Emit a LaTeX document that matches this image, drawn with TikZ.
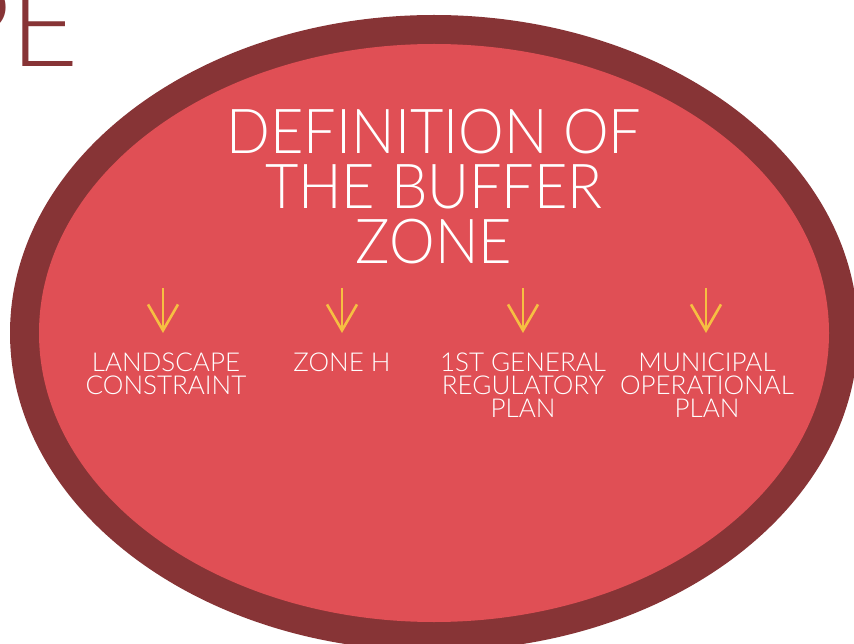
\documentclass[tikz,border=0pt]{standalone}
\usepackage{fontspec}
\setmainfont{Lato}[UprightFont={* Light}]
\usetikzlibrary{arrows.meta}

\definecolor{rim}{HTML}{873436}
\definecolor{disc}{HTML}{E04F55}
\definecolor{pointer}{HTML}{F6BF42}

\begin{document}
\begin{tikzpicture}[x=1pt,y=-1pt,
  title/.style = {text=white,font=\addfontfeature{FakeStretch=0.93}\fontsize{62}{55}\selectfont,align=center,inner sep=0pt},   % big heading
  item/.style = {text=white,font=\fontsize{26}{23}\selectfont,align=center,inner sep=0pt,anchor=north},
  arr/.style = {pointer,line width=2.6pt,-{Straight Barb[length=26pt,width=30pt]}}]
\useasboundingbox (0,0) rectangle (854,644);
\begin{scope}
\clip (0,0) rectangle (854,644);
\node[anchor=base east,inner sep=0pt,text=rim,font=\fontsize{118}{118}\selectfont](pe) at (79,67){PE};
\fill[rim] (434,333) ellipse [x radius=424,y radius=318];
\end{scope}
\fill[disc] (434,333) ellipse [x radius=395,y radius=289];
\node[title,anchor=north](head) at (434,109){DEFINITION OF\\THE BUFFER\\ZONE};
% the four sources
\node[item](n1) at (166,353){LANDSCAPE\\CONSTRAINT};
\node[item](n2) at (342,353){ZONE H};
\node[item](n3) at (523,353){1ST GENERAL\\REGULATORY\\PLAN};
\node[item](n4) at (707,353){MUNICIPAL\\OPERATIONAL\\PLAN};
\coordinate (a1) at (163,288);
\coordinate (a2) at (342,288);
\coordinate (a3) at (523,288);
\coordinate (a4) at (706,288);
\foreach \i in {1,...,4}
  \draw[arr,shorten >=20pt] (a\i) -- (a\i |- n\i.north);
\end{tikzpicture}
\end{document}
